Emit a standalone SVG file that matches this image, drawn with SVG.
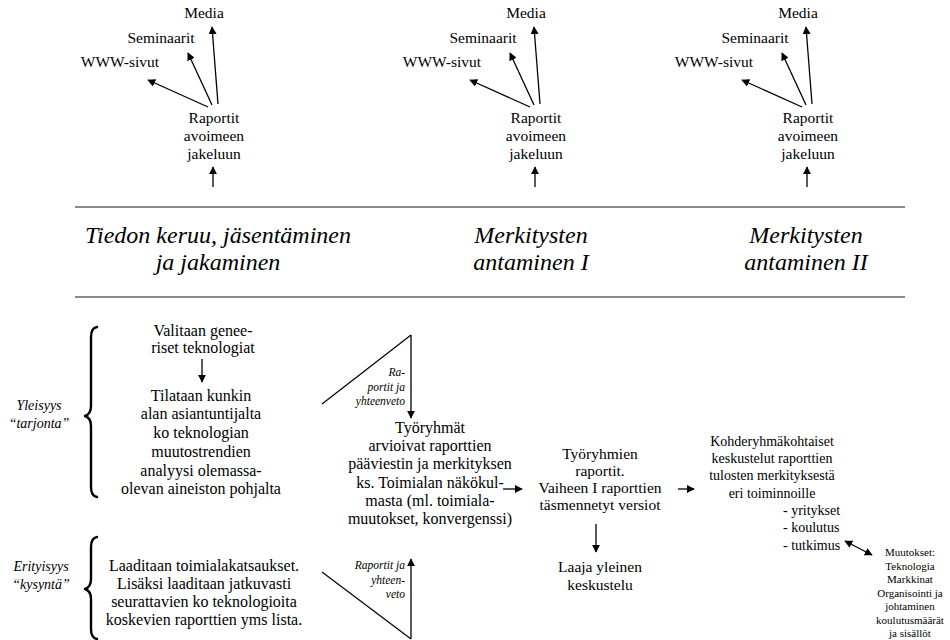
<svg xmlns="http://www.w3.org/2000/svg" width="950" height="640" viewBox="0 0 950 640" font-family="Liberation Serif, serif">
  <defs>
    <marker id="arrow" viewBox="0 0 10 10" refX="9" refY="5" markerWidth="8" markerHeight="8" markerUnits="userSpaceOnUse" orient="auto">
      <path d="M0,0 L10,5 L0,10 z" fill="#000"/>
    </marker>
    <marker id="arrowStart" viewBox="0 0 10 10" refX="1" refY="5" markerWidth="8" markerHeight="8" markerUnits="userSpaceOnUse" orient="auto">
      <path d="M10,0 L0,5 L10,10 z" fill="#000"/>
    </marker>
    <style>
      text { font-family: "Liberation Serif", serif; fill: #000; text-anchor: middle; }
      .top { font-size: 15.5px; }
      .head { font-size: 24px; font-style: italic; }
      .body { font-size: 16px; }
      .mid2 { font-size: 15.5px; }
      .right { font-size: 14px; }
      .small { font-size: 11px; }
      .side { font-size: 14px; font-style: italic; }
      .tri { font-size: 11.5px; font-style: italic; text-anchor: end; }
      .conn { stroke: #000; stroke-width: 1.3; fill: none; marker-end: url(#arrow); }
      .edge { stroke: #000; stroke-width: 1.2; fill: none; }
      .rule { stroke: #8a8a8a; stroke-width: 2; }
      .brace { stroke: #000; stroke-width: 2.4; fill: none; stroke-linecap: round; stroke-linejoin: round; }
    </style>
  </defs>
  <rect width="950" height="640" fill="#fff"/>

  <!-- distribution clusters, one per phase -->
  <g id="jakelu-1" class="top">
    <text x="204" y="18">Media</text>
    <text x="161" y="43">Seminaarit</text>
    <text x="120" y="67">WWW-sivut</text>
    <text x="214" y="123">Raportit</text>
    <text x="214" y="141">avoimeen</text>
    <text x="214" y="159">jakeluun</text>
  </g>
  <g id="jakelu-2" class="top">
    <text x="526" y="18">Media</text>
    <text x="483" y="43">Seminaarit</text>
    <text x="442" y="67">WWW-sivut</text>
    <text x="536" y="123">Raportit</text>
    <text x="536" y="141">avoimeen</text>
    <text x="536" y="159">jakeluun</text>
  </g>
  <g id="jakelu-3" class="top">
    <text x="798" y="18">Media</text>
    <text x="755" y="43">Seminaarit</text>
    <text x="714" y="67">WWW-sivut</text>
    <text x="808" y="123">Raportit</text>
    <text x="808" y="141">avoimeen</text>
    <text x="808" y="159">jakeluun</text>
  </g>

  <!-- phase headings between rules -->
  <g id="vaiheet">
    <line class="rule" x1="75" y1="207" x2="905" y2="207"/>
    <line class="rule" x1="75" y1="297" x2="905" y2="297"/>
    <text class="head" x="218" y="243">Tiedon keruu, jäsentäminen</text>
    <text class="head" x="218" y="270">ja jakaminen</text>
    <text class="head" x="531" y="243">Merkitysten</text>
    <text class="head" x="531" y="270">antaminen I</text>
    <text class="head" x="806" y="243">Merkitysten</text>
    <text class="head" x="806" y="270">antaminen II</text>
  </g>

  <!-- supply side -->
  <g id="yleisyys">
    <text class="side" x="39" y="410">Yleisyys</text>
    <text class="side" x="39" y="428">“tarjonta”</text>
    <path class="brace" d="M97,327 Q91,328 91,337 L91,406 Q91,414 85,416 Q91,418 91,426 L91,487 Q91,496 97,497"/>
  </g>
  <g id="valitaan" class="body">
    <text x="203" y="336">Valitaan genee-</text>
    <text x="203" y="353">riset teknologiat</text>
  </g>
  <g id="tilataan" class="body">
    <text x="201" y="401">Tilataan kunkin</text>
    <text x="201" y="419">alan asiantuntijalta</text>
    <text x="201" y="438">ko teknologian</text>
    <text x="201" y="457">muutostrendien</text>
    <text x="201" y="476">analyysi olemassa-</text>
    <text x="201" y="494">olevan aineiston pohjalta</text>
  </g>

  <!-- demand side -->
  <g id="erityisyys">
    <text class="side" x="41" y="571">Erityisyys</text>
    <text class="side" x="41" y="589">“kysyntä”</text>
    <path class="brace" d="M97,537 Q91,538 91,547 L91,579 Q91,587 85,589 Q91,591 91,599 L91,629 Q91,638 97,639"/>
  </g>
  <g id="laaditaan" class="body">
    <text x="204" y="571">Laaditaan toimialakatsaukset.</text>
    <text x="204" y="589">Lisäksi laaditaan jatkuvasti</text>
    <text x="204" y="607">seurattavien ko teknologioita</text>
    <text x="204" y="625">koskevien raporttien yms  lista.</text>
  </g>

  <!-- report summaries feeding the working groups -->
  <g id="yhteenveto-1">
    <line class="edge" x1="411" y1="335" x2="322" y2="404"/>
    <text class="tri" x="405" y="376">Ra-</text>
    <text class="tri" x="405" y="391">portit  ja</text>
    <text class="tri" x="405" y="405">yhteenveto</text>
  </g>
  <g id="yhteenveto-2">
    <line class="edge" x1="411" y1="639" x2="322" y2="572"/>
    <text class="tri" x="405" y="569">Raportit ja</text>
    <text class="tri" x="405" y="584">yhteen-</text>
    <text class="tri" x="405" y="598">veto</text>
  </g>

  <g id="tyoryhmat" class="body">
    <text x="430" y="433">Työryhmät</text>
    <text x="430" y="451">arvioivat raporttien</text>
    <text x="430" y="469">pääviestin ja merkityksen</text>
    <text x="430" y="488">ks. Toimialan näkökul-</text>
    <text x="430" y="506">masta (ml. toimiala-</text>
    <text x="430" y="524">muutokset, konvergenssi)</text>
  </g>

  <g id="tyoryhmien-raportit" class="mid2">
    <text x="600" y="459">Työryhmien</text>
    <text x="600" y="476">raportit.</text>
    <text x="600" y="493">Vaiheen I raporttien</text>
    <text x="600" y="510">täsmennetyt versiot</text>
  </g>
  <g id="keskustelu" class="mid2">
    <text x="600" y="572">Laaja yleinen</text>
    <text x="600" y="590">keskustelu</text>
  </g>

  <g id="kohderyhmat" class="right">
    <text x="772" y="446">Kohderyhmäkohtaiset</text>
    <text x="772" y="463">keskustelut raporttien</text>
    <text x="772" y="480">tulosten merkityksestä</text>
    <text x="772" y="498">eri toiminnoille</text>
    <text x="783" y="515" style="text-anchor:start">- yritykset</text>
    <text x="783" y="532" style="text-anchor:start">- koulutus</text>
    <text x="783" y="550" style="text-anchor:start">- tutkimus</text>
  </g>

  <g id="muutokset" class="small">
    <text x="910" y="556">Muutokset:</text>
    <text x="910" y="569.5">Teknologia</text>
    <text x="910" y="583">Markkinat</text>
    <text x="910" y="596.5">Organisointi ja</text>
    <text x="910" y="610">johtaminen</text>
    <text x="910" y="623.5">koulutusmäärät</text>
    <text x="910" y="637">ja sisällöt</text>
  </g>

  <!-- connectors -->
  <g id="connectors">
    <line class="conn" x1="208" y1="107" x2="148" y2="80"/>
    <line class="conn" x1="212" y1="105" x2="188" y2="53"/>
    <line class="conn" x1="218" y1="104" x2="212" y2="27"/>
    <line class="conn" x1="213" y1="187" x2="213" y2="167"/>

    <line class="conn" x1="530" y1="107" x2="470" y2="80"/>
    <line class="conn" x1="534" y1="105" x2="510" y2="53"/>
    <line class="conn" x1="540" y1="104" x2="534" y2="27"/>
    <line class="conn" x1="535" y1="187" x2="535" y2="167"/>

    <line class="conn" x1="802" y1="107" x2="742" y2="80"/>
    <line class="conn" x1="806" y1="105" x2="782" y2="53"/>
    <line class="conn" x1="812" y1="104" x2="806" y2="27"/>
    <line class="conn" x1="807" y1="187" x2="807" y2="167"/>

    <line class="conn" x1="202" y1="359" x2="202" y2="382"/>
    <line class="conn" x1="411" y1="335" x2="411" y2="418"/>
    <line class="conn" x1="411" y1="639" x2="411" y2="559"/>
    <line class="conn" x1="503" y1="489" x2="522" y2="489"/>
    <line class="conn" x1="678" y1="489" x2="694" y2="489"/>
    <line class="conn" x1="596" y1="524" x2="596" y2="552"/>
    <line class="conn" x1="845" y1="541" x2="872" y2="555" marker-start="url(#arrowStart)"/>
  </g>
</svg>
